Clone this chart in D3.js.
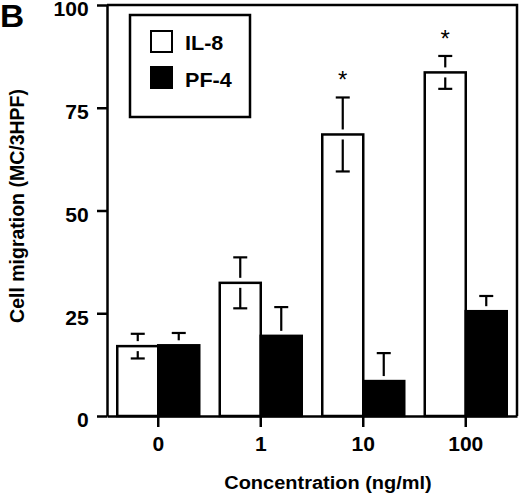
<!DOCTYPE html>
<html>
<head>
<meta charset="utf-8">
<script src="https://cdn.jsdelivr.net/npm/d3@7"></script>
<style>
    body { margin: 0; background: #fff; }
    text { font-family: "Liberation Sans", Arial, Helvetica, sans-serif; font-weight: bold; fill: #000; }
    .axis path, .axis line { stroke: #000; stroke-width: 2.5px; }
    .axis text { font-size: 19.5px; }
</style>
</head>
<body>
<script>
(function(){

    //chart data
    var categories = ["0", "1", "10", "100"];
    var seriesNames = ["IL-8", "PF-4"];
    var il8Values = [17, 32.4, 68.5, 83.6];
    var il8Errors = [3, 6.2, 9, 4];
    var pf4Values = [17.2, 19.5, 8.5, 25.5];
    var pf4Errors = [3, 7, 6.8, 3.7];
    var significant = [false, false, true, true]; //asterisk over IL-8
    var yTicks = [0, 25, 50, 75, 100];

    //the original figure is a little wider than tall in its lettering
    var stretch = 1.08;

    window.onload = setChart();

    function setChart(){
        var width = 520,
            height = 498,
            left = 107,
            right = 517,
            top = 5,
            bottom = 416;

        var svg = d3.select("body")
            .append("svg")
            .attr("width", width)
            .attr("height", height);

        //scales
        var xScale = d3.scaleBand()
            .domain(categories)
            .range([left, right])
            .padding(0);

        var subScale = d3.scaleBand()
            .domain(seriesNames)
            .range([xScale.bandwidth() * 0.1, xScale.bandwidth() * 0.9]);

        var yScale = d3.scaleLinear()
            .domain([0, 100])
            .range([bottom, top]);

        //frame on top and right
        svg.append("path")
            .attr("d", "M" + left + "," + top + "H" + right + "V" + bottom)
            .attr("fill", "none")
            .attr("stroke", "#000")
            .attr("stroke-width", 2.5);

        //build rows for bars
        var rows = [];
        categories.forEach(function(c, i){
            rows.push({cat: c, series: "IL-8", value: il8Values[i], err: il8Errors[i], star: significant[i]});
            rows.push({cat: c, series: "PF-4", value: pf4Values[i], err: pf4Errors[i], star: false});
        });

        var bars = svg.selectAll(".bar")
            .data(rows)
            .enter()
            .append("rect")
            .attr("class", "bar")
            .attr("x", function(d){ return xScale(d.cat) + subScale(d.series); })
            .attr("width", subScale.bandwidth())
            .attr("y", function(d){ return yScale(d.value); })
            .attr("height", function(d){ return bottom - yScale(d.value); })
            .attr("fill", function(d){ return d.series == "IL-8" ? "#fff" : "#000"; })
            .attr("stroke", "#000")
            .attr("stroke-width", 2.5);

        //error bars
        var gap = 5;
        var capW = 14;
        rows.forEach(function(d){
            var cx = xScale(d.cat) + subScale(d.series) + subScale.bandwidth() / 2;
            var yv = yScale(d.value),
                yHi = yScale(d.value + d.err),
                yLo = yScale(d.value - d.err);
            var g = svg.append("g")
                .attr("stroke", "#000")
                .attr("stroke-width", 2.2);
            //upper whisker
            g.append("line").attr("x1", cx).attr("x2", cx).attr("y1", yHi).attr("y2", yv - gap);
            g.append("line").attr("x1", cx - capW / 2).attr("x2", cx + capW / 2).attr("y1", yHi).attr("y2", yHi);
            if (d.series == "IL-8"){
                //lower whisker inside white bar
                g.append("line").attr("x1", cx).attr("x2", cx).attr("y1", yv + gap).attr("y2", yLo);
                g.append("line").attr("x1", cx - capW / 2).attr("x2", cx + capW / 2).attr("y1", yLo).attr("y2", yLo);
            }
            if (d.star){
                svg.append("text")
                    .attr("x", cx)
                    .attr("y", yHi - 9)
                    .attr("text-anchor", "middle")
                    .style("font-weight", "normal")
                    .style("font-size", "24px")
                    .text("*");
            }
        });

        //y axis
        var yAxis = d3.axisLeft(yScale)
            .tickValues(yTicks)
            .tickSizeInner(10)
            .tickSizeOuter(0)
            .tickPadding(7);

        var yAx = svg.append("g")
            .attr("class", "axis")
            .attr("transform", "translate(" + left + ",0)")
            .call(yAxis);
        yAx.selectAll("text")
            .attr("dy", "0.56em")
            .attr("transform", "scale(" + stretch + ",1)");

        //x axis
        var xAxis = d3.axisBottom(xScale)
            .tickSizeInner(11)
            .tickSizeOuter(0)
            .tickPadding(10);

        var xAx = svg.append("g")
            .attr("class", "axis")
            .attr("transform", "translate(0," + bottom + ")")
            .call(xAxis);
        xAx.selectAll("text")
            .attr("transform", "scale(" + stretch + ",1)");

        //axis titles
        svg.append("text")
            .attr("transform", "translate(24," + 206 + ") rotate(-90) scale(1," + stretch + ")")
            .attr("text-anchor", "middle")
            .style("font-size", "19.5px")
            .text("Cell migration (MC/3HPF)");

        svg.append("text")
            .attr("transform", "translate(328,489) scale(" + stretch + ",1)")
            .attr("text-anchor", "middle")
            .style("font-size", "18.5px")
            .text("Concentration (ng/ml)");

        //panel letter
        svg.append("text")
            .attr("transform", "translate(0,27) scale(" + stretch + ",1)")
            .style("font-size", "31px")
            .text("B");

        //legend
        var legend = svg.append("g");
        legend.append("rect")
            .attr("x", 130).attr("y", 15)
            .attr("width", 120).attr("height", 102)
            .attr("fill", "#fff").attr("stroke", "#000").attr("stroke-width", 2.5);

        seriesNames.forEach(function(name, i){
            legend.append("rect")
                .attr("x", 151).attr("y", 31 + i * 36)
                .attr("width", 21).attr("height", 21)
                .attr("fill", i == 0 ? "#fff" : "#000")
                .attr("stroke", "#000").attr("stroke-width", 2);
            legend.append("text")
                .attr("transform", "translate(185," + (50 + i * 36.5) + ") scale(" + stretch + ",1)")
                .style("font-size", "20px")
                .text(name);
        });
    };

})();
</script>
</body>
</html>
